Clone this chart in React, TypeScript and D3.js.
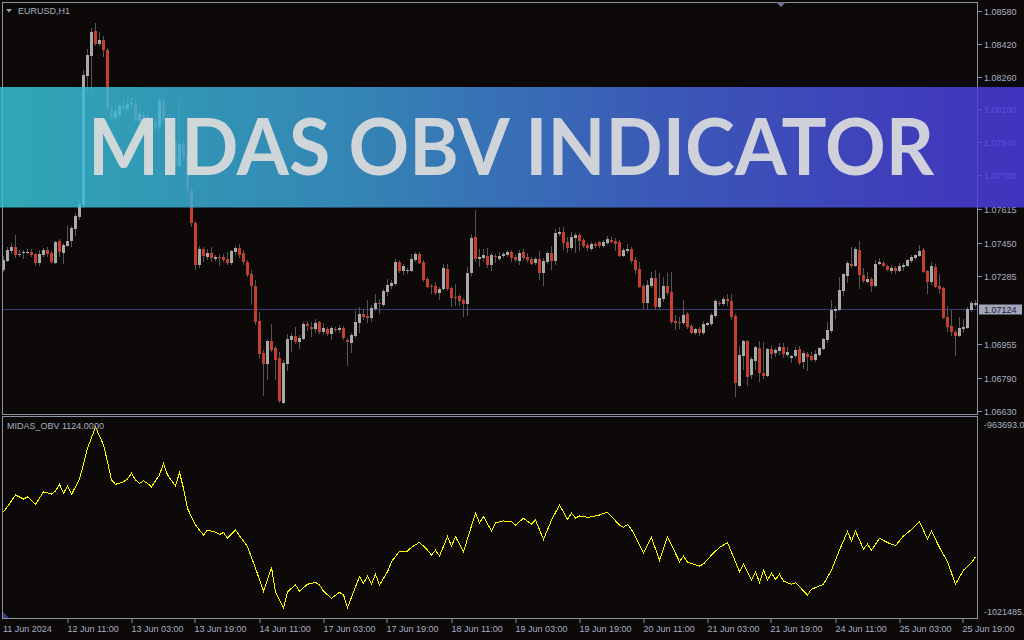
import React from 'react';
import * as d3 from 'd3';

const W = 1024;
const H = 640;

// EURUSD H1 candles, [open, high, low, close] in points (price x 100000), first bar 11 Jun 2024 19:00
const CANDLES: [number, number, number, number][] = [
  [107316,107385,107307,107365],[107360,107429,107355,107414],[107409,107448,107395,107429],[107429,107487,107375,107390],
  [107393,107414,107380,107396],[107403,107414,107370,107405],[107404,107419,107395,107405],[107404,107419,107380,107390],
  [107395,107399,107336,107351],[107351,107414,107336,107395],[107390,107424,107380,107414],[107414,107429,107380,107395],
  [107399,107409,107351,107355],[107351,107458,107346,107453],[107458,107468,107380,107404],[107399,107448,107346,107438],
  [107434,107531,107429,107458],[107458,107531,107429,107521],[107517,107595,107482,107580],[107575,107658,107560,107639],
  [107634,108292,107619,108268],[108263,108395,108185,108366],[108361,108497,108170,108478],[108483,108522,108410,108419],
  [108419,108478,108410,108439],[108439,108458,108356,108390],[108390,108400,108097,108107],[108107,108122,108048,108058],
  [108058,108117,108044,108092],[108073,108131,108058,108117],[108117,108146,108087,108102],[108102,108156,108092,108127],
  [108127,108156,108107,108129],[108127,108146,108034,108048],[108044,108097,108029,108078],[108073,108087,108044,108058],
  [108068,108083,108024,108039],[108048,108063,108014,108029],[108039,108053,108000,108014],[108014,108161,108000,108141],
  [108141,108156,108034,108048],[108058,108073,107990,108014],[108014,108029,107922,107936],[107941,107951,107814,107824],
  [107824,108161,107814,107931],[107931,107946,107853,107868],[107878,107892,107692,107707],[107707,107717,107526,107546],
  [107546,107556,107316,107341],[107341,107434,107326,107419],[107419,107429,107355,107385],[107380,107419,107365,107399],
  [107399,107429,107355,107375],[107370,107390,107360,107380],[107381,107395,107336,107379],[107380,107395,107355,107365],
  [107370,107404,107341,107351],[107351,107414,107341,107409],[107404,107434,107390,107424],[107424,107443,107375,107390],
  [107399,107414,107341,107355],[107355,107365,107282,107292],[107297,107316,107146,107238],[107238,107268,107048,107063],
  [107068,107112,106882,106906],[106911,106926,106702,106858],[106858,106980,106780,106970],[106970,107053,106916,106926],
  [106936,106946,106780,106877],[106887,106916,106667,106677],[106667,106877,106662,106862],[106858,107004,106823,106980],
  [106975,107009,106916,106994],[106994,107038,106955,106965],[106965,106999,106931,106985],[106980,107063,106975,107053],
  [107053,107068,107019,107043],[107038,107063,106990,107029],[107029,107077,107009,107058],[107063,107068,107004,107014],
  [107014,107058,106999,107033],[107029,107038,106994,107004],[107004,107043,106975,107033],[107029,107038,107014,107024],
  [107024,107048,107009,107033],[107033,107043,106975,106985],[106975,106985,106848,106965],[106960,107009,106911,106999],
  [106994,107116,106985,107063],[107058,107136,107009,107102],[107102,107126,107072,107087],[107092,107170,107058,107082],
  [107082,107146,107063,107131],[107126,107199,107116,107155],[107155,107175,107102,107151],[107146,107224,107136,107214],
  [107209,107272,107190,107243],[107238,107268,107224,107253],[107248,107370,107238,107355],[107355,107365,107302,107312],
  [107312,107346,107292,107336],[107316,107326,107297,107318],[107312,107395,107307,107370],[107365,107404,107355,107395],
  [107395,107404,107346,107351],[107355,107365,107258,107268],[107272,107282,107229,107233],[107239,107248,107199,107237],
  [107238,107258,107194,107204],[107204,107233,107170,107224],[107224,107346,107219,107326],[107321,107346,107214,107224],
  [107229,107238,107136,107180],[107186,107248,107141,107184],[107190,107199,107141,107165],[107170,107180,107087,107151],
  [107151,107331,107092,107302],[107302,107492,107287,107473],[107478,107609,107355,107370],[107370,107419,107331,107380],
  [107375,107419,107355,107390],[107385,107424,107326,107341],[107341,107399,107312,107390],[107386,107395,107351,107384],
  [107370,107404,107360,107385],[107385,107404,107375,107395],[107390,107414,107380,107404],[107404,107414,107355,107375],
  [107380,107390,107355,107365],[107360,107414,107341,107399],[107404,107419,107365,107375],[107380,107399,107355,107365],
  [107370,107380,107341,107346],[107351,107380,107341,107370],[107370,107409,107268,107302],[107302,107375,107238,107360],
  [107355,107409,107346,107399],[107399,107434,107316,107360],[107360,107517,107341,107497],[107492,107526,107482,107502],
  [107502,107526,107414,107448],[107453,107478,107399,107424],[107424,107502,107414,107478],[107473,107497,107399,107487],
  [107487,107497,107409,107458],[107463,107473,107424,107434],[107438,107448,107409,107424],[107419,107453,107409,107443],
  [107443,107453,107424,107434],[107453,107458,107424,107434],[107434,107463,107424,107453],[107448,107482,107438,107468],
  [107463,107478,107448,107453],[107458,107473,107409,107443],[107453,107463,107380,107385],[107385,107424,107380,107414],
  [107409,107443,107399,107419],[107419,107429,107351,107360],[107365,107380,107297,107316],[107321,107355,107229,107233],
  [107238,107248,107121,107155],[107155,107268,107126,107243],[107238,107307,107229,107277],[107277,107316,107121,107136],
  [107136,107302,107121,107180],[107175,107282,107160,107238],[107238,107302,107194,107204],[107209,107307,107053,107063],
  [107068,107097,107024,107058],[107063,107087,107029,107058],[107058,107170,107048,107097],[107102,107112,107029,107038],
  [107043,107053,107004,107009],[107009,107033,106999,107029],[107029,107038,106994,107009],[107009,107068,106999,107053],
  [107048,107063,107043,107058],[107053,107107,107043,107097],[107092,107175,107082,107165],[107155,107165,107141,107151],
  [107151,107185,107141,107175],[107175,107199,107141,107165],[107165,107199,107072,107087],[107092,107102,106697,106765],
  [106750,106946,106745,106902],[106897,106975,106828,106970],[106970,106975,106750,106794],[106804,106892,106784,106882],
  [106872,106946,106828,106941],[106936,106970,106770,106814],[106814,106965,106784,106799],[106799,106936,106794,106931],
  [106931,106950,106882,106906],[106911,106936,106892,106926],[106921,106960,106902,106941],[106941,106960,106887,106906],
  [106902,106941,106892,106916],[106887,106902,106862,106897],[106897,106941,106887,106926],[106931,106946,106853,106862],
  [106867,106921,106833,106911],[106906,106916,106823,106892],[106897,106916,106872,106877],[106877,106926,106867,106906],
  [106902,106941,106897,106936],[106931,106985,106926,106980],[106975,107063,106960,107024],[107019,107170,107009,107121],
  [107116,107141,107077,107126],[107121,107282,107116,107219],[107214,107302,107190,107297],[107287,107360,107253,107351],
  [107346,107429,107326,107336],[107336,107429,107331,107419],[107414,107458,107224,107292],[107292,107326,107253,107263],
  [107258,107307,107253,107272],[107272,107282,107209,107238],[107238,107365,107233,107346],[107346,107375,107341,107355],
  [107351,107360,107331,107336],[107336,107341,107312,107316],[107312,107341,107297,107326],[107326,107336,107297,107312],
  [107312,107351,107307,107336],[107331,107351,107312,107341],[107336,107370,107331,107365],[107360,107390,107351,107380],
  [107375,107395,107365,107390],[107385,107438,107380,107409],[107414,107424,107302,107307],[107312,107316,107199,107258],
  [107258,107355,107243,107336],[107331,107346,107229,107233],[107238,107297,107199,107224],[107229,107233,107077,107082],
  [107087,107141,107014,107038],[107043,107121,106994,107014],[107014,107024,106897,106994],[106994,107087,106990,107033],
  [107029,107077,107009,107038],[107033,107136,107029,107126],[107121,107165,107112,107155],[107146,107170,107136,107155],
];

// MIDAS_OBV values read at bar indices: [bar, value]
const OBV: [number, number][] = [
  [0,-990700],[1,-989100],[3,-985400],[5,-986700],[6,-986000],[8,-988400],[10,-984400],[12,-985100],[13,-984100],
  [14,-982000],[15,-984900],[16,-982500],[17,-985200],[19,-980400],[21,-970500],[23,-963700],[25,-969400],[26,-974800],
  [27,-980600],[28,-982000],[30,-981200],[31,-980300],[32,-978500],[33,-980600],[34,-981700],[35,-980900],[36,-981700],
  [37,-982800],[39,-979000],[40,-975300],[41,-979000],[43,-982500],[44,-978200],[45,-983300],[46,-989700],[48,-995000],
  [50,-998200],[51,-996600],[53,-997300],[54,-998000],[55,-997400],[56,-999200],[58,-996600],[59,-998400],[60,-1000100],
  [61,-1001900],[63,-1008800],[65,-1016100],[67,-1008500],[68,-1016300],[70,-1021486],[71,-1016300],[73,-1014100],
  [74,-1016100],[76,-1013900],[77,-1013600],[78,-1013300],[79,-1014100],[80,-1016100],[82,-1018400],[84,-1016500],
  [85,-1017300],[86,-1021400],[88,-1014700],[89,-1011500],[90,-1013600],[91,-1011300],[92,-1013800],[93,-1010700],
  [94,-1014100],[96,-1009900],[97,-1006700],[99,-1003300],[101,-1003300],[102,-1002100],[104,-1000500],[106,-1003000],
  [107,-1004600],[108,-1003000],[109,-1004900],[111,-998700],[112,-1001700],[113,-998700],[115,-1003500],[118,-991200],
  [119,-994300],[120,-992300],[122,-996900],[123,-994300],[125,-993700],[127,-993900],[128,-995000],[130,-992800],
  [132,-994700],[133,-993400],[135,-999600],[137,-993400],[139,-988600],[141,-993200],[142,-991200],[143,-992800],
  [144,-992100],[146,-992500],[147,-992400],[149,-991800],[151,-990900],[152,-992300],[154,-995000],[155,-995700],
  [156,-994800],[157,-996400],[160,-1003800],[162,-999000],[164,-1006200],[166,-998700],[169,-1006700],[170,-1004900],
  [171,-1006900],[174,-1008100],[175,-1007400],[177,-1004600],[179,-1002100],[181,-1000600],[184,-1009900],[185,-1007400],
  [187,-1012500],[188,-1009900],[189,-1013400],[190,-1009400],[191,-1012500],[192,-1010400],[193,-1012300],[194,-1010700],
  [195,-1012900],[197,-1013900],[198,-1013400],[199,-1014700],[201,-1017300],[202,-1015500],[205,-1013900],[207,-1009400],
  [209,-1003000],[211,-997100],[212,-1000100],[213,-996900],[215,-1002700],[216,-1001100],[217,-1003000],[219,-999200],
  [221,-1000600],[223,-1001600],[225,-998500],[227,-996400],[229,-993900],[231,-999500],[232,-996900],[234,-1002200],
  [236,-1006700],[238,-1013900],[240,-1009400],[242,-1007000],[243,-1005100],
];

const PRICE_TICKS = [1.0858, 1.0842, 1.0826, 1.081, 1.0794, 1.0778, 1.07615, 1.0745, 1.07285, 1.06955, 1.0679, 1.0663];
const BID = 1.07124;
const TIME_LABELS = [
  '11 Jun 2024', '12 Jun 11:00', '13 Jun 03:00', '13 Jun 19:00', '14 Jun 11:00', '17 Jun 03:00', '17 Jun 19:00',
  '18 Jun 11:00', '19 Jun 03:00', '19 Jun 19:00', '20 Jun 11:00', '21 Jun 03:00', '21 Jun 19:00', '24 Jun 11:00',
  '25 Jun 03:00', '25 Jun 19:00',
];
const TIME_STEP = 16;
const OBV_MAX = -963693.0;
const OBV_MIN = -1021485.94;
const OBV_LABELS = ['-963693.00', '-1021485.94'];
const TITLE = 'EURUSD,H1';
const IND_TITLE = 'MIDAS_OBV 1124.0000';
const BANNER = 'MIDAS OBV INDICATOR';

const BG = '#0c0908';
const FRAME = '#8c92a6';
const TXT = '#a7b0c2';
const BULL = '#a9a9a9';
const BEAR = '#c43f2e';
const WICK = '#565656';
const FONT = 'Liberation Sans, Arial, sans-serif';

export default function App() {
  const n = CANDLES.length;
  const x = d3.scaleLinear().domain([0, n - 1]).range([3.5, 3.5 + 4 * (n - 1)]);
  const yP = d3.scaleLinear().domain([1.0663, 1.0858]).range([410.7, 11]);
  const yO = d3.scaleLinear().domain([OBV_MIN, OBV_MAX]).range([608, 427]);
  const line = d3.line<[number, number]>().x(d => x(d[0])).y(d => yO(d[1]));

  const mainL = 2.5, mainR = 977.5, mainT = 2.5, mainB = 414.5;
  const indT = 416.5, indB = 618.5;
  const axisX = 978;
  const bidY = Math.round(yP(BID)) + 0.5;

  return (
    <svg width={W} height={H} style={{ position: 'fixed', left: 0, top: 0, background: BG }}>
      <defs>
        <clipPath id="mainClip"><rect x={3} y={3} width={975} height={411} /></clipPath>
        <clipPath id="indClip"><rect x={3} y={417} width={975} height={201} /></clipPath>
        <linearGradient id="bannerGrad" x1="0" x2="1" y1="0" y2="0">
          <stop offset="0" stopColor="#37c6d6" />
          <stop offset="0.35" stopColor="#3c9cd6" />
          <stop offset="0.65" stopColor="#4467d8" />
          <stop offset="1" stopColor="#4b3ae0" />
        </linearGradient>
      </defs>
      <rect x={0} y={0} width={W} height={H} fill={BG} />

      {/* frames */}
      <rect x={mainL} y={mainT} width={mainR - mainL} height={mainB - mainT} fill="none" stroke={FRAME} strokeWidth={1} />
      <rect x={mainL} y={indT} width={mainR - mainL} height={indB - indT} fill="none" stroke={FRAME} strokeWidth={1} />

      {/* candles */}
      <g clipPath="url(#mainClip)" shapeRendering="crispEdges">
        <line x1={3} x2={977} y1={bidY} y2={bidY} stroke="#3a3a74" strokeWidth={1} />
        {CANDLES.map((c, i) => {
          const [o, h, l, cl] = c.map(v => v / 100000);
          const cx = x(i);
          const top = Math.round(yP(Math.max(o, cl)));
          const bot = Math.round(yP(Math.min(o, cl)));
          const hy = Math.round(yP(h));
          const ly = Math.round(yP(l));
          const bull = cl >= o;
          return (
            <g key={i}>
              <rect x={cx - 0.5} y={hy} width={1} height={Math.max(1, ly - hy)} fill={WICK} />
              <rect x={cx - 1.5} y={top} width={3} height={Math.max(1, bot - top)} fill={bull ? BULL : BEAR} />
            </g>
          );
        })}
      </g>

      {/* indicator line */}
      <g clipPath="url(#indClip)">
        <path d={line(OBV) || ''} fill="none" stroke="#ffff00" strokeWidth={1} shapeRendering="crispEdges" />
      </g>

      {/* title texts */}
      <polygon points="6,9 12,9 9,12.5" fill="#9aa2b4" />
      <text x={18} y={14} fontFamily={FONT} fontSize={9} fill={TXT}>{TITLE}</text>
      <text x={7} y={429} fontFamily={FONT} fontSize={9} fill={TXT}>{IND_TITLE}</text>
      <polygon points="776,2 786,2 781,7" fill="#6c7594" />
      <polygon points="3,612 3,618 9,618" fill="#3a3c86" />

      {/* price axis */}
      <g fontFamily={FONT} fontSize={9} fill={TXT}>
        {PRICE_TICKS.map(v => {
          const yy = Math.round(yP(v)) + 0.5;
          return (
            <g key={v}>
              <line x1={axisX} x2={axisX + 4} y1={yy} y2={yy} stroke={FRAME} />
              <text x={984} y={yy + 3.5}>{v.toFixed(5)}</text>
            </g>
          );
        })}
        <rect x={979} y={bidY - 5} width={43} height={10} fill="#a3a6b9" />
        <text x={984} y={bidY + 3.5} fill="#1b1d3c">{BID.toFixed(5)}</text>
        <text x={984} y={Math.round(yO(OBV_MAX)) + 0.5} fill={TXT}>{OBV_LABELS[0]}</text>
        <text x={984} y={Math.round(yO(OBV_MIN)) + 7} fill={TXT}>{OBV_LABELS[1]}</text>
      </g>

      {/* time axis */}
      <g fontFamily={FONT} fontSize={9} fill={TXT}>
        {TIME_LABELS.map((t, k) => {
          const tx = Math.round(x(k * TIME_STEP)) - 0.5;
          return (
            <g key={t}>
              {k > 0 && <line x1={tx + 0.5} x2={tx + 0.5} y1={619} y2={623} stroke={FRAME} />}
              <text x={k === 0 ? 3 : tx} y={632}>{t}</text>
            </g>
          );
        })}
      </g>

      {/* banner overlay */}
      <rect x={0} y={87} width={W} height={120.5} fill="url(#bannerGrad)" fillOpacity={0.84} />
      <text x={511} y={175} textAnchor="middle" fontFamily="Lato, 'Open Sans', sans-serif" fontWeight={700}
        fontSize={78} fill="#dcdcdc" fillOpacity={0.92} textLength={846} lengthAdjust="spacingAndGlyphs">{BANNER}</text>
    </svg>
  );
}
